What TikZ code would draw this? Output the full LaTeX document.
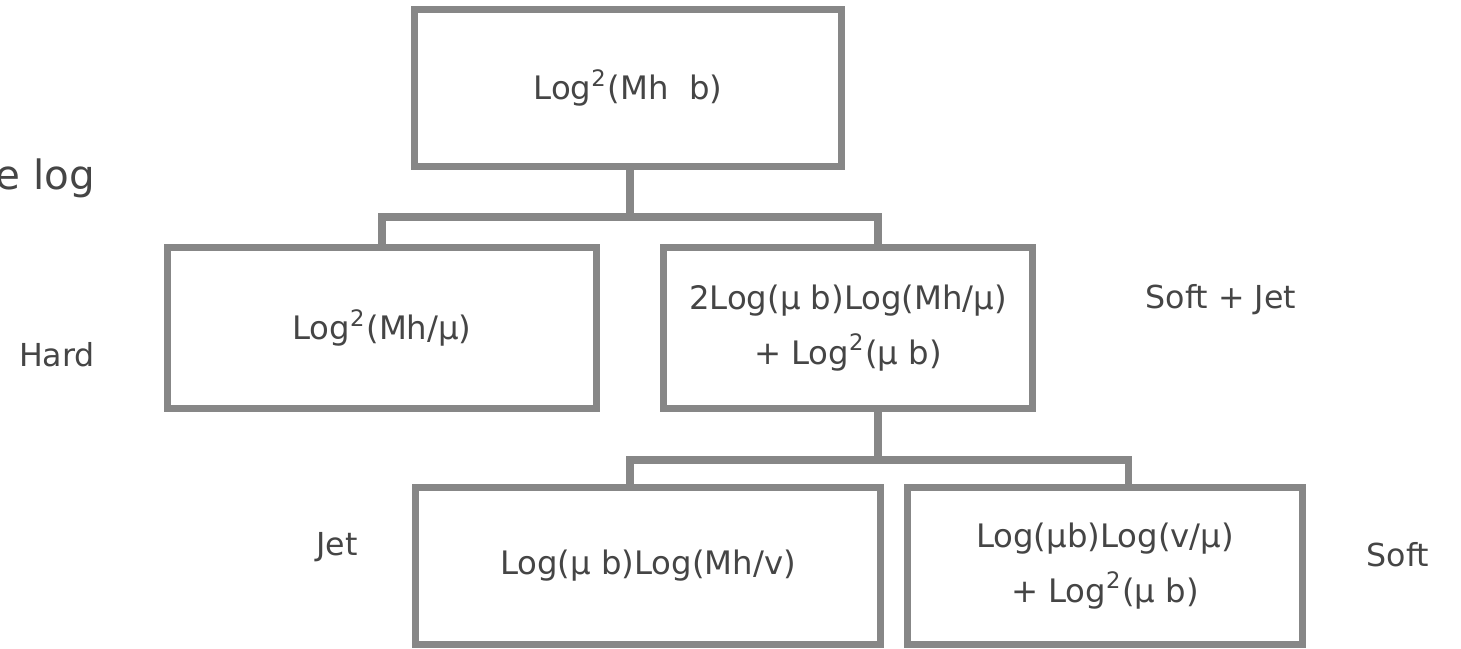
\documentclass[tikz,border=0pt]{standalone}
\usepackage{fontspec}
\setmainfont{DejaVu Sans}
\usetikzlibrary{positioning}
\definecolor{boxgray}{HTML}{878787}
\definecolor{inkgray}{HTML}{454545}
\tikzset{
  termbox/.style={draw=boxgray,line width=2pt,fill=white,inner sep=0pt,
    align=center,text=inkgray,font=\fontsize{9.2}{15.6}\selectfont},
  tag/.style={text=inkgray,font=\fontsize{9}{10}\selectfont,inner sep=0pt},
  link/.style={draw=boxgray,line width=2pt}
}
\begin{document}
\begin{tikzpicture}[x=0.01cm,y=-0.01cm]
\useasboundingbox (0,0) rectangle (1461,648);
% boxes
\node[termbox,minimum width=4.27cm,minimum height=1.57cm] (full) at (628,88) {Log\textsuperscript{2}(Mh\ \ b)};
\node[termbox,minimum width=4.28cm,minimum height=1.60cm] (hard) at (382,328) {Log\textsuperscript{2}(Mh/μ)};
\node[termbox,minimum width=3.69cm,minimum height=1.60cm] (softjet) at (848,328) {2Log(μ b)Log(Mh/μ)\\+ Log\textsuperscript{2}(μ b)};
\node[termbox,minimum width=4.64cm,minimum height=1.57cm] (jet) at (648,566) {Log(μ b)Log(Mh/v)};
\node[termbox,minimum width=3.94cm,minimum height=1.57cm] (soft) at (1105,566) {Log(μb)Log(v/μ)\\+ Log\textsuperscript{2}(μ b)};
% side labels
\node[tag,anchor=west,font=\fontsize{11.5}{12}\selectfont] (elog) at (-5,178) {e log};
\node[tag] (hardlbl) at (57,355) {Hard};
\node[tag] (sjlbl) at (1221,300) {Soft + Jet};
\node[tag] (jetlbl) at (337,547) {Jet};
\node[tag] (softlbl) at (1398,555) {Soft};
% branch points
\coordinate (bar1) at (630,217);
\coordinate (drop1) at (878,217);
\coordinate (bar2) at (878,460);
\coordinate (drop2l) at (630,460);
\coordinate (drop2r) at (1128,460);
% connectors
\draw[link] (full.south -| bar1) -- (bar1);
\draw[link] (hard.north) |- (drop1) -- (drop1 |- softjet.north);
\draw[link] (softjet.south -| bar2) -- (bar2);
\draw[link] (drop2l |- jet.north) -- (drop2l) -- (drop2r) -- (drop2r |- soft.north);
\end{tikzpicture}
\end{document}
